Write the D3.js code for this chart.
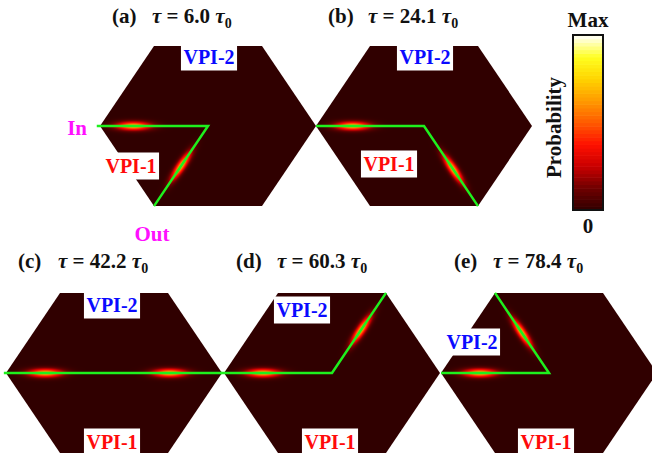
<!DOCTYPE html>
<html>
<head>
<meta charset="utf-8">
<script src="https://cdn.jsdelivr.net/npm/d3@7"></script>
<style>
  html, body { margin: 0; padding: 0; background: #fff; }
  svg { display: block; }
  text { font-family: "Liberation Serif", "Times New Roman", serif; font-weight: bold; }
</style>
</head>
<body>
<svg id="chart" width="652" height="470"></svg>
<script>
// ---- data -----------------------------------------------------------------
const panelLabels = ["(a)", "(b)", "(c)", "(d)", "(e)"];
const tauValues = ["6.0", "24.1", "42.2", "60.3", "78.4"];

// Guide path of each panel, in hexagon units (centre 0,0; corner radius 1, y up)
const guidePaths = [
  [[-1.03, 0], [0, 0], [-0.5, -0.866]],
  [[-1.0, 0], [0, 0], [0.5, -0.866]],
  [[-1.02, 0], [1.0, 0]],
  [[-1.03, 0], [0, 0], [0.5, 0.866]],
  [[-1.0, 0], [0, 0], [-0.5, 0.866]]
];

// Wave-packet centres: [segment index, fraction along that segment]
const packets = [
  [[0, 0.33], [1, 0.50]],
  [[0, 0.34], [1, 0.54]],
  [[0, 0.19], [0, 0.76]],
  [[0, 0.38], [1, 0.54]],
  [[0, 0.36], [1, 0.50]]
];

const regionNames = ["VPI-1", "VPI-2"];
const portLabels = ["In", "Out"];
const colorbarTicks = ["0", "Max"];
const colorbarTitle = "Probability";
const colorStops = ["#300000", "#6e0000", "#c80000", "#ff1000", "#ff5a00", "#ff9a00", "#ffd400", "#ffff20", "#ffffff"];

// ---- layout ---------------------------------------------------------------
const R = 108, RY = 92.5;
const layout = [
  { cx: 208, cy: 126, titleX: 112, tauX: 152, titleY: 23, vpi1: [131, 166], vpi2: [209, 57] },
  { cx: 424, cy: 126, titleX: 328, tauX: 368, titleY: 23, vpi1: [389, 164], vpi2: [425, 57] },
  { cx: 114, cy: 373, titleX: 18,  tauX: 58,  titleY: 268, vpi1: [112, 442], vpi2: [112, 305] },
  { cx: 332, cy: 373, titleX: 236, tauX: 277, titleY: 268, vpi1: [330, 442], vpi2: [302, 310] },
  { cx: 549, cy: 373, titleX: 454, tauX: 493, titleY: 268, vpi1: [546, 442], vpi2: [472, 342] }
];

const cmap = d3.scaleSequential(d3.piecewise(d3.interpolateRgb, colorStops)).domain([0, 1]);
const hexUnit = d3.range(6).map(i => [Math.cos(i * Math.PI / 3), Math.sin(i * Math.PI / 3)]);

const svg = d3.select("#chart");
const defs = svg.append("defs");

// packet envelope (pixels) and peak level on the colour scale
const sigmaAlong = 12, sigmaAcross = 3.0, peak = 0.68;

panelLabels.forEach((label, i) => {
  const L = layout[i];
  const x = d3.scaleLinear().domain([-1, 1]).range([L.cx - R, L.cx + R]);
  const y = d3.scaleLinear().domain([-1, 1]).range([L.cy + RY, L.cy - RY]);
  const toPx = p => [x(p[0]), y(p[1])];
  const hexPx = hexUnit.map(toPx);

  defs.append("clipPath").attr("id", "hex" + i)
    .append("polygon").attr("points", hexPx.map(p => p.join(",")).join(" "));

  // wave packets in pixel space
  const pathPx = guidePaths[i].map(toPx);
  const blobs = packets[i].map(([s, t]) => {
    const a = pathPx[s], b = pathPx[s + 1];
    const len = Math.hypot(b[0] - a[0], b[1] - a[1]);
    return {
      x: a[0] + (b[0] - a[0]) * t, y: a[1] + (b[1] - a[1]) * t,
      ux: (b[0] - a[0]) / len, uy: (b[1] - a[1]) / len
    };
  });

  // probability density raster
  const x0 = Math.floor(L.cx - R) - 1, y0 = Math.floor(L.cy - RY) - 1;
  const w = Math.ceil(2 * R) + 3, h = Math.ceil(2 * RY) + 3;
  const canvas = document.createElement("canvas");
  canvas.width = w; canvas.height = h;
  const ctx = canvas.getContext("2d");
  const img = ctx.createImageData(w, h);
  for (let py = 0; py < h; py++) {
    for (let px = 0; px < w; px++) {
      const gx = x0 + px + 0.5, gy = y0 + py + 0.5;
      let v = 0;
      blobs.forEach(bl => {
        const dx = gx - bl.x, dy = gy - bl.y;
        const u = dx * bl.ux + dy * bl.uy;
        const n = -dx * bl.uy + dy * bl.ux;
        v = Math.max(v, peak * Math.exp(-(u * u) / (2 * sigmaAlong * sigmaAlong) - (n * n) / (2 * sigmaAcross * sigmaAcross)));
      });
      const c = d3.rgb(cmap(v));
      const k = (py * w + px) * 4;
      img.data[k] = c.r; img.data[k + 1] = c.g; img.data[k + 2] = c.b; img.data[k + 3] = 255;
    }
  }
  ctx.putImageData(img, 0, 0);

  svg.append("image")
    .attr("x", x0).attr("y", y0).attr("width", w).attr("height", h)
    .attr("href", canvas.toDataURL())
    .attr("clip-path", `url(#hex${i})`);

  // guide path
  svg.append("path")
    .attr("d", d3.line()(pathPx))
    .attr("fill", "none")
    .attr("stroke", "#1ef01e")
    .attr("stroke-width", 2.5)
    .attr("stroke-linejoin", "miter");

  // region labels
  const addRegion = (name, pos, color) => {
    const g = svg.append("g");
    const t = g.append("text")
      .attr("x", pos[0]).attr("y", pos[1] + 7)
      .attr("text-anchor", "middle")
      .attr("font-size", 20)
      .attr("fill", color)
      .text(name);
    const bw = t.node().getComputedTextLength() + 5;
    g.insert("rect", "text")
      .attr("x", pos[0] - bw / 2).attr("y", pos[1] - 13.5)
      .attr("width", bw).attr("height", 27)
      .attr("fill", "#fff");
  };
  addRegion(regionNames[1], L.vpi2, "#0a0aff");
  addRegion(regionNames[0], L.vpi1, "#ff0a0a");

  // panel title
  svg.append("text")
    .attr("x", L.titleX).attr("y", L.titleY)
    .attr("font-size", 21).attr("fill", "#111")
    .text(label);
  const tt = svg.append("text")
    .attr("x", L.tauX).attr("y", L.titleY)
    .attr("font-size", 21).attr("fill", "#111");
  tt.append("tspan").attr("font-style", "italic").text("τ");
  tt.append("tspan").text(" = " + tauValues[i] + " ");
  tt.append("tspan").attr("font-style", "italic").text("τ");
  tt.append("tspan").attr("font-size", 14).attr("dy", 5).text("0");
});

// port labels for panel (a)
svg.append("text").attr("x", 87).attr("y", 135)
  .attr("text-anchor", "end").attr("font-size", 21).attr("fill", "#ff10ff")
  .text(portLabels[0]);
svg.append("text").attr("x", 152).attr("y", 241)
  .attr("text-anchor", "middle").attr("font-size", 21).attr("fill", "#ff10ff")
  .text(portLabels[1]);

// colour bar
const cbX = 573, cbW = 30, cbTop = 35, cbBottom = 210;
const cbScale = d3.scaleLinear().domain([0, 1]).range([cbBottom, cbTop]);
const steps = d3.range(0, 1, 1 / 48);
svg.append("g").selectAll("rect").data(steps).join("rect")
  .attr("x", cbX)
  .attr("y", d => cbScale(d + 1 / 48))
  .attr("width", cbW)
  .attr("height", d => cbScale(d) - cbScale(d + 1 / 48) + 0.6)
  .attr("fill", d => cmap(d + 0.5 / 48));
svg.append("rect")
  .attr("x", cbX).attr("y", cbTop).attr("width", cbW).attr("height", cbBottom - cbTop)
  .attr("fill", "none").attr("stroke", "#111").attr("stroke-width", 2);
svg.append("text").attr("x", cbX + cbW / 2).attr("y", cbScale(1) - 8)
  .attr("text-anchor", "middle").attr("font-size", 21).attr("fill", "#111")
  .text(colorbarTicks[1]);
svg.append("text").attr("x", cbX + cbW / 2).attr("y", cbScale(0) + 23)
  .attr("text-anchor", "middle").attr("font-size", 21).attr("fill", "#111")
  .text(colorbarTicks[0]);
svg.append("text")
  .attr("transform", `translate(561,${(cbTop + cbBottom) / 2 + 5}) rotate(-90)`)
  .attr("text-anchor", "middle").attr("font-size", 21).attr("fill", "#111")
  .text(colorbarTitle);
</script>
</body>
</html>
